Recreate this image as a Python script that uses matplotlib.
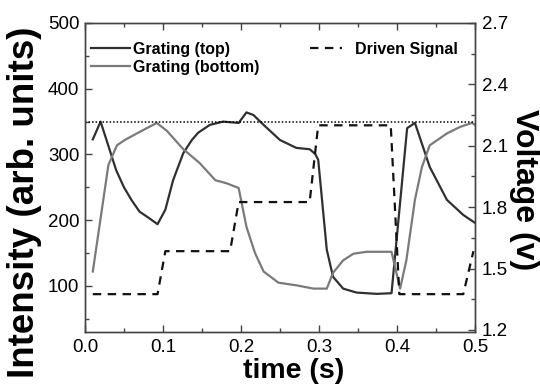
import matplotlib
matplotlib.use("Agg")
from matplotlib import pyplot as plt
from matplotlib.ticker import MultipleLocator, FormatStrFormatter

plt.rcParams['font.family'] = ['Liberation Sans', 'DejaVu Sans']

# grating (top) - dark curve
t_top = [0.01, 0.02, 0.04, 0.05, 0.06, 0.07, 0.08, 0.093, 0.103, 0.113,
         0.126, 0.137, 0.145, 0.16, 0.177, 0.197, 0.207, 0.216, 0.229,
         0.25, 0.271, 0.288, 0.295, 0.299, 0.31, 0.318, 0.331, 0.348,
         0.374, 0.393, 0.413, 0.423, 0.442, 0.464, 0.485, 0.5]
top = [323, 350, 276, 250, 230, 213, 205, 194, 216, 261,
       302, 322, 333, 345, 350, 348, 364, 360, 345,
       322, 310, 308, 301, 292, 155, 114, 96, 90,
       88, 89, 340, 348, 281, 231, 208, 196]

# grating (bottom) - grey curve
t_bot = [0.01, 0.03, 0.041, 0.051, 0.068, 0.092, 0.105, 0.126, 0.147,
         0.167, 0.182, 0.197, 0.207, 0.218, 0.229, 0.248, 0.271, 0.293,
         0.31, 0.318, 0.331, 0.344, 0.361, 0.393, 0.404, 0.412, 0.423,
         0.432, 0.442, 0.464, 0.481, 0.496, 0.5]
bot = [122, 284, 314, 322, 333, 348, 336, 308, 287,
       261, 256, 249, 190, 150, 122, 105, 101, 96,
       96, 120, 139, 149, 152, 152, 96, 139, 231,
       281, 314, 332, 342, 348, 345]

# driven signal (voltage)
t_sig = [0.01, 0.093, 0.103, 0.186, 0.197, 0.288, 0.299, 0.392, 0.403,
         0.485, 0.498]
v_sig = [1.375, 1.375, 1.585, 1.585, 1.825, 1.825, 2.2, 2.2, 1.375,
         1.375, 1.585]

ref_level = 350

fig = plt.figure(figsize=(5.4, 3.87), dpi=100)
ax = fig.add_axes([0.1574, 0.1421, 0.7222, 0.7985])
ax2 = ax.twinx()

l1, = ax.plot(t_top, top, color='#303030', lw=1.6, label='Grating (top)')
l2, = ax.plot(t_bot, bot, color='#7a7a7a', lw=1.6, label='Grating (bottom)')
ax.axhline(ref_level, color='black', lw=1.1, ls=(0, (1, 1.3)))
l3, = ax2.plot(t_sig, v_sig, color='#111111', lw=1.6, dashes=(3.8, 2.9),
               label='Driven Signal')

ax.set_xlim(0, 0.5)
ax.set_ylim(30, 500)
ax2.set_ylim(1.19, 2.7)

ax.xaxis.set_major_locator(MultipleLocator(0.1))
ax.xaxis.set_minor_locator(MultipleLocator(0.05))
ax.xaxis.set_major_formatter(FormatStrFormatter('%.1f'))
ax.yaxis.set_major_locator(MultipleLocator(100))
ax.yaxis.set_minor_locator(MultipleLocator(50))
ax2.yaxis.set_major_locator(MultipleLocator(0.3))
ax2.yaxis.set_minor_locator(MultipleLocator(0.15))
ax2.yaxis.set_major_formatter(FormatStrFormatter('%.1f'))

ax.tick_params(axis='x', which='both', direction='in', top=True,
               labelsize=13.5, pad=5, color='#444444')
ax.tick_params(axis='y', which='both', direction='in', right=False,
               labelsize=13.5, pad=4, color='#444444')
ax2.tick_params(axis='y', which='both', direction='in',
                labelsize=13.5, pad=5, color='#444444')
for a in (ax, ax2):
    a.tick_params(which='major', length=5, width=1)
    a.tick_params(which='minor', length=3, width=1)
    for s in a.spines.values():
        s.set_color('#444444')
        s.set_linewidth(1.0)

ax.set_xlabel('time (s)', fontsize=20.5, fontweight='bold')
ax.xaxis.set_label_coords(0.536, -0.085)
ax.set_ylabel('Intensity (arb. units)', fontsize=26.5, fontweight='bold')
ax.yaxis.set_label_coords(-0.11, 0.42)
ax2.set_ylabel('Voltage (v)', fontsize=23, fontweight='bold', rotation=-90,
               va='center')
ax2.yaxis.set_label_coords(1.125, 0.46)

ax.legend(handles=[l1, l2], loc='upper left',
          bbox_to_anchor=(-0.012, 0.975), frameon=False,
          prop={'weight': 'bold', 'size': 11.5}, handlelength=2.4,
          handletextpad=0.2, labelspacing=0.2, borderpad=0.2)
ax2.legend(handles=[l3], loc='upper right', bbox_to_anchor=(0.985, 0.975),
           frameon=False, prop={'weight': 'bold', 'size': 11.5},
           handlelength=2.0, handletextpad=0.8, borderpad=0.2)

plt.savefig('out.png', dpi=100)
